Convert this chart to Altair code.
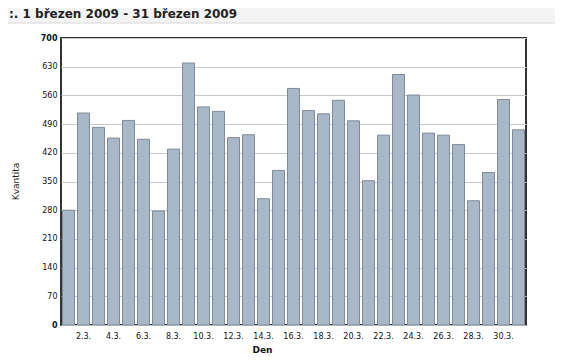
import altair as alt
import pandas as pd

title_text = ":. 1 březen 2009 - 31 březen 2009"
days = list(range(1, 32))
day_labels = [f"{d}.3." for d in days]
values = [280, 517, 482, 456, 499, 453, 278, 429, 639, 532, 521, 457, 464, 308, 377,
          577, 523, 515, 548, 498, 352, 463, 611, 561, 468, 463, 440, 303, 372, 550, 476]
y_ticks = list(range(0, 701, 70))

df = pd.DataFrame({"Den": day_labels, "Kvantita": values})
one = pd.DataFrame({"a": [0]})

BG = "#f4f4f4"

top_strip = alt.Chart(one).mark_rect(fill=BG).encode(
    x=alt.value(-60), x2=alt.value(520), y=alt.value(-40), y2=alt.value(-15)
)
right_strip = alt.Chart(one).mark_rect(fill=BG).encode(
    x=alt.value(495), x2=alt.value(520), y=alt.value(-40), y2=alt.value(340)
)
top_border = alt.Chart(one).mark_rule(color="#d8d8d8", strokeWidth=1).encode(
    x=alt.value(-53), x2=alt.value(495), y=alt.value(-15)
)
right_border = alt.Chart(one).mark_rule(color="#d8d8d8", strokeWidth=1).encode(
    x=alt.value(495), y=alt.value(-15), y2=alt.value(340)
)

title = alt.Chart(one).mark_text(
    align="left", baseline="middle", font="DejaVu Sans", fontSize=12,
    fontWeight="bold", color="#222222"
).encode(x=alt.value(-52), y=alt.value(-24), text=alt.value(title_text))

bars = alt.Chart(df).mark_bar(
    color="#a9b8c9", stroke="#7f8b98", strokeWidth=1
).encode(
    x=alt.X("Den:N", sort=day_labels,
            scale=alt.Scale(paddingInner=0.2, paddingOuter=0.1),
            axis=alt.Axis(
                title="Den", titleFont="DejaVu Sans", titleFontSize=9,
                titleFontWeight="bold", titleColor="#111111",
                titleX=201, titleY=24, titleBaseline="middle",
                labelExpr="parseInt(datum.value) % 2 == 0 ? datum.value : ''",
                labelAngle=0, labelFont="DejaVu Sans", labelFontSize=8,
                labelColor="#111111", labelPadding=7, labelBaseline="top",
                ticks=False, domain=False, grid=False)),
    y=alt.Y("Kvantita:Q",
            scale=alt.Scale(domain=[0, 700], nice=False),
            axis=alt.Axis(
                title="Kvantita", titleFont="DejaVu Sans", titleFontSize=9,
                titleFontWeight="normal", titleColor="#222222",
                titleX=-41, titleY=143, titleAngle=-90,
                values=y_ticks, labelFont="DejaVu Sans", labelFontSize=8,
                labelColor="#111111", labelPadding=4,
                labelFontWeight=alt.condition("datum.value == 0 || datum.value == 700",
                                              alt.value("bold"), alt.value("normal")),
                ticks=False, domain=False, grid=True, gridColor="#c8c8c8",
                gridWidth=1)),
)

chart = alt.layer(top_strip, right_strip, top_border, right_border, title, bars).properties(
    width=465, height=287,
    padding={"left": 53, "top": 30, "right": 29, "bottom": 30},
    autosize=alt.AutoSizeParams(type="none"),
    background="white",
).configure_view(stroke="#333333", strokeWidth=2)

chart.save("out.html", embed_options={"renderer": "svg", "actions": False})
